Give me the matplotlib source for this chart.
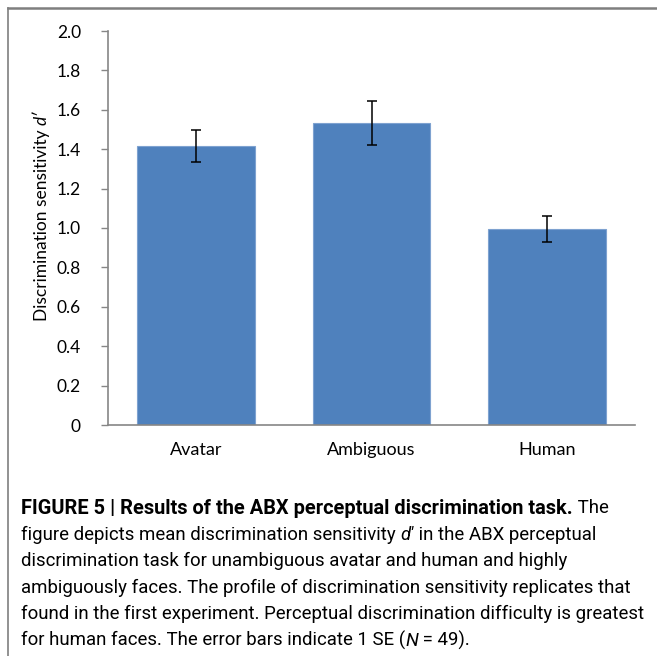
import matplotlib
matplotlib.use('Agg')
import matplotlib.pyplot as plt
from matplotlib.lines import Line2D

categories = ['Avatar', 'Ambiguous', 'Human']
means = [1.417, 1.535, 0.995]
errors = [0.080, 0.112, 0.068]
y_ticks = [0, 0.2, 0.4, 0.6, 0.8, 1.0, 1.2, 1.4, 1.6, 1.8, 2.0]
y_tick_labels = ['0', '0.2', '0.4', '0.6', '0.8', '1.0', '1.2', '1.4', '1.6', '1.8', '2.0']

caption_lines = [
    [('FIGURE 5 | Results of the ABX perceptual discrimination task.', 'bold', 'normal'),
     (' The', 'normal', 'normal')],
    [('figure depicts mean discrimination sensitivity ', 'normal', 'normal'),
     ('d\u2032', 'normal', 'italic'),
     (' in the ABX perceptual', 'normal', 'normal')],
    [('discrimination task for unambiguous avatar and human and highly', 'normal', 'normal')],
    [('ambiguously faces. The profile of discrimination sensitivity replicates that', 'normal', 'normal')],
    [('found in the first experiment. Perceptual discrimination difficulty is greatest', 'normal', 'normal')],
    [('for human faces. The error bars indicate 1 SE (', 'normal', 'normal'),
     ('N', 'normal', 'italic'),
     (' = 49).', 'normal', 'normal')],
]

W, H = 657, 656
fig = plt.figure(figsize=(W / 100, H / 100), dpi=100)

# axes placed in pixel terms of the reference
ax = fig.add_axes([108 / W, 1 - 425 / H, (635 - 108) / W, (425 - 31) / H])
x = range(len(categories))
ax.bar(x, means, width=0.67, color='#4F81BD', edgecolor='#7EA2D0', linewidth=0.8,
       yerr=errors, error_kw=dict(ecolor='black', elinewidth=1.1, capsize=3.5, capthick=1.1))
ax.set_xlim(-0.5, 2.5)
ax.set_ylim(0, 2.0)
ax.set_yticks(y_ticks)
ax.set_yticklabels(y_tick_labels)
ax.set_xticks(list(x))
ax.set_xticklabels(categories)
for s in ['top', 'right']:
    ax.spines[s].set_visible(False)
for s in ['left', 'bottom']:
    ax.spines[s].set_color('#868686')
    ax.spines[s].set_linewidth(1.2)
ax.tick_params(axis='y', direction='out', length=5, width=1, color='#868686',
               labelsize=12.5, pad=14.5)
ax.tick_params(axis='x', length=0, labelsize=13, pad=12)
for lab in ax.get_yticklabels() + ax.get_xticklabels():
    lab.set_family('Lato')

fig.canvas.draw()
r = fig.canvas.get_renderer()

# y label built from two parts (regular + italic d')
t1 = fig.text(42 / W, 1 - 321 / H, 'Discrimination sensitivity ', rotation=90,
              ha='center', va='bottom', fontsize=12.5, family='Lato')
bb = t1.get_window_extent(r)
fig.text(42 / W, bb.y1 / H, 'd\u2032', rotation=90, ha='center', va='bottom',
         fontsize=12.5, family='Lato', style='italic')

# frame lines at top and left of the figure panel
fig.add_artist(Line2D([8 / W, 1], [1 - 8 / H, 1 - 8 / H], color='#7f7f7f', lw=1.8))
fig.add_artist(Line2D([8 / W, 8 / W], [0, 1 - 8 / H], color='#7f7f7f', lw=1.2))


def fit_size(txt, family, weight, target, start=10):
    # find a font size whose rendered width is about target px
    t = fig.text(0.1, 0.1, txt, fontsize=start, family=family, weight=weight)
    size = start
    for _ in range(3):
        w = t.get_window_extent(r).width
        size = size * target / w
        t.set_fontsize(size)
    t.remove()
    return size


cap_family = ['Roboto', 'DejaVu Sans']
cap_size = fit_size(caption_lines[4][0][0], cap_family, 'normal', 624)
# bold heading ends near x=569 in the reference
bold_size = fit_size(caption_lines[0][0][0], cap_family, 'bold', 548)

y0 = 508
for i, pieces in enumerate(caption_lines):
    xp = 21
    yp = 1 - (y0 + i * 26.5) / H
    for txt, weight, style in pieces:
        size = bold_size if weight == 'bold' else cap_size
        t = fig.text(xp / W, yp, txt, fontsize=size, family=cap_family,
                     weight=weight, style=style, va='center', ha='left')
        xp += t.get_window_extent(r).width

fig.savefig('out.png', dpi=100)
